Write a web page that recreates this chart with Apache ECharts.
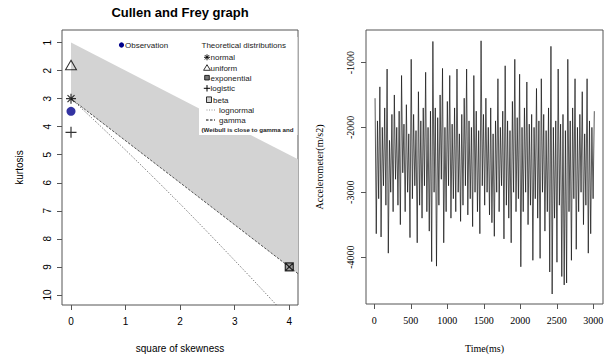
<!DOCTYPE html>
<html>
<head>
<meta charset="utf-8">
<script src="https://cdn.jsdelivr.net/npm/echarts@6/dist/echarts.min.js"></script>
<style>
  html, body { margin: 0; padding: 0; background: #fff; }
  #main { width: 608px; height: 358px; }
</style>
</head>
<body>
<div id="main"></div>
<script>
// --- Cullen and Frey graph (left) ---
const observation = [[0, 3.45]];
const normalPt = [[0, 3]];
const uniformPt = [[0, 1.8]];
const exponentialPt = [[4, 9]];
const logisticPt = [[0, 4.2]];
const betaRegion = [[0, 1], [4.16, 5.16], [4.16, 9.24], [0, 3]];
const lognormalLine = [[0, 3], [0.091, 3.16], [0.229, 3.41], [0.465, 3.84], [0.961, 4.76],
  [1.488, 5.76], [2.048, 6.85], [2.641, 8.04], [3.267, 9.32], [3.66, 10.14], [3.793, 10.42]];
const gammaLine = [[0, 3], [4.16, 9.24]];
const skewTicks = [0, 1, 2, 3, 4];
const kurtTicks = [1, 2, 3, 4, 5, 6, 7, 8, 9, 10];
const legendNames = ['normal', 'uniform', 'exponential', 'logistic', 'beta', 'lognormal', 'gamma'];

// --- accelerometer trace (right) ---
const timeTicks = [0, 500, 1000, 1500, 2000, 2500, 3000];
const accelTicks = [-4000, -3000, -2000, -1000];
const sampleStartMs = 10;
const sampleStepMs = 16.5;
const accel = [
  -1550, -3640, -1900, -3100, -1375, -3690, -2000, -2900, -1700, -3200, -1100, -3940,
  -2200, -3000, -1800, -3300, -1500, -2800, -2000, -3200, -1750, -3500, -1200, -2700,
  -1950, -3300, -1650, -3000, -2100, -3700, -950, -3100, -1800, -2900, -2050, -3780,
  -1450, -3200, -1900, -3400, -1700, -2900, -1150, -3300, -2000, -3600, -1750, -4070,
  -675, -3000, -1700, -4140, -1850, -3200, -1500, -2800, -1090, -3780, -2000, -3300,
  -1600, -2900, -1200, -3400, -1950, -3100, -1700, -3300, -1100, -3000, -2100, -3450,
  -1800, -3200, -1550, -2900, -1100, -3350, -1900, -3100, -2000, -3530, -1200, -3000,
  -1750, -3300, -2050, -3640, -665, -2900, -1800, -3200, -1550, -3000, -2000, -3350,
  -1700, -3470, -2100, -3680, -1900, -3000, -1250, -3300, -2000, -2900, -1750, -3720,
  -1050, -3200, -1900, -3400, -2050, -3780, -1600, -3000, -950, -3300, -1850, -3100,
  -1180, -4150, -2000, -3300, -1700, -3000, -1300, -3500, -1950, -3200, -1800, -4050,
  -2000, -3100, -1400, -3400, -1900, -4020, -1250, -3000, -1800, -3600, -2050, -3300,
  -1700, -4230, -750, -4570, -2000, -3400, -1900, -4080, -1100, -3200, -1950, -4300,
  -1800, -4430, -2050, -4400, -950, -3300, -1900, -4050, -1700, -3100, -1250, -3880,
  -2000, -3300, -1800, -3000, -1450, -3500, -2100, -3200, -1250, -3940, -1900, -3640,
  -2000, -3100, -1750
];

const sans = 'Liberation Sans, Arial, sans-serif';
const serif = 'Liberation Serif, Times New Roman, serif';
const frame = '#555';

const accelData = accel.map((v, i) => [sampleStartMs + i * sampleStepMs, v]);

// symbols (R pch lookalikes)
const starPath = 'path://M10,0L10,20M0,10L20,10M3,3L17,17M3,17L17,3';
const triPath = 'path://M10,0L20,17.3L0,17.3Z';
const boxXPath = 'path://M0,0L20,0L20,20L0,20ZM0,0L20,20M20,0L0,20';
const plusPath = 'path://M10,0L10,20M0,10L20,10';

function seg(x1, y1, x2, y2, w, dash, col) {
  return { type: 'line', silent: true, z: 100, shape: { x1, y1, x2, y2 },
    style: { stroke: col || '#000', lineWidth: w || 1, lineDash: dash || null } };
}
function txt(x, y, s, size, extra) {
  return Object.assign({ type: 'text', x, y, silent: true, z: 100,
    style: Object.assign({ text: s, fontSize: size, fontFamily: sans, fill: '#222', verticalAlign: 'middle' }, extra || {}) });
}

// legend drawn by hand to keep R's layout
const lx = 207, rows = [57.3, 67.7, 77.7, 88.3, 99.7, 110, 120];
const legendEls = [
  { type: 'rect', silent: true, z: 99, shape: { x: 199, y: 37, width: 98.5, height: 98 }, style: { fill: '#fff' } },
  { type: 'circle', silent: true, z: 100, shape: { cx: 121.5, cy: 45, r: 2.6 }, style: { fill: '#00008b' } },
  txt(125, 45.5, 'Observation', 8),
  txt(201.5, 45.5, 'Theoretical distributions', 8),
  // normal
  seg(lx - 3, rows[0], lx + 3, rows[0], 0.9), seg(lx, rows[0] - 3, lx, rows[0] + 3, 0.9),
  seg(lx - 2.2, rows[0] - 2.2, lx + 2.2, rows[0] + 2.2, 0.9), seg(lx - 2.2, rows[0] + 2.2, lx + 2.2, rows[0] - 2.2, 0.9),
  // uniform
  { type: 'polygon', silent: true, z: 100, shape: { points: [[lx, rows[1] - 3], [lx + 3.4, rows[1] + 2.6], [lx - 3.4, rows[1] + 2.6]] },
    style: { fill: 'none', stroke: '#000', lineWidth: 0.8 } },
  // exponential
  { type: 'rect', silent: true, z: 100, shape: { x: lx - 2.3, y: rows[2] - 2.3, width: 4.6, height: 4.6 },
    style: { fill: '#777', stroke: '#000', lineWidth: 0.8 } },
  // logistic
  seg(lx - 3.2, rows[3], lx + 3.2, rows[3], 1), seg(lx, rows[3] - 3.2, lx, rows[3] + 3.2, 1),
  // beta
  { type: 'rect', silent: true, z: 100, shape: { x: lx - 0.5, y: rows[4] - 2.8, width: 5, height: 5.6 },
    style: { fill: '#d3d3d3', stroke: '#000', lineWidth: 0.8 } },
  // lognormal / gamma
  seg(lx - 0.5, rows[5], lx + 8, rows[5], 0.8, [1, 1.5], '#777'),
  seg(lx - 1, rows[6], lx + 8, rows[6], 1, [2.5, 1.5], '#000'),
  txt(210.5, rows[0] + 0.5, legendNames[0], 8),
  txt(210.5, rows[1] + 0.5, legendNames[1], 8),
  txt(210.5, rows[2] + 0.5, legendNames[2], 8),
  txt(210.5, rows[3] + 0.5, legendNames[3], 8),
  txt(213, rows[4] + 0.5, legendNames[4], 8),
  txt(219, rows[5] + 0.5, legendNames[5], 8),
  txt(219, rows[6] + 0.5, legendNames[6], 8),
  txt(201.5, 129.7, '(Weibull is close to gamma and', 6.2, { fontWeight: 'bold' }),
  { type: 'text', x: 180, y: 12, silent: true, z: 100,
    style: { text: 'Cullen and Frey graph', fontSize: 13, fontWeight: 'bold', fontFamily: sans,
      fill: '#000', align: 'center', verticalAlign: 'middle' } }
];

function axisCommon(ticks, font, margin, rotate) {
  return {
    axisLine: { show: false, onZero: false },
    splitLine: { show: false },
    axisTick: { show: true, customValues: ticks, length: 5, lineStyle: { color: frame } },
    axisLabel: { customValues: ticks, margin: margin, rotate: rotate || 0, fontFamily: font, fontSize: 10,
      color: '#000', formatter: v => String(v) },
    nameLocation: 'middle',
    nameTextStyle: { fontFamily: font, fontSize: 10, color: '#000' }
  };
}

const option = {
  animation: false,
  backgroundColor: '#fff',
  grid: [
    { left: 62, top: 30, width: 236, height: 282, show: true, borderColor: frame, borderWidth: 1, backgroundColor: 'transparent' },
    { left: 366, top: 30, width: 237, height: 280, show: true, borderColor: frame, borderWidth: 1, backgroundColor: 'transparent' }
  ],
  xAxis: [
    Object.assign(axisCommon(skewTicks, sans, 11), { gridIndex: 0, type: 'value', min: -0.165, max: 4.16,
      name: 'square of skewness', nameGap: 38 }),
    Object.assign(axisCommon(timeTicks, serif, 11), { gridIndex: 1, type: 'value', min: -114, max: 3132,
      name: 'Time(ms)', nameGap: 39 })
  ],
  yAxis: [
    Object.assign(axisCommon(kurtTicks, sans, 10, 90), { gridIndex: 0, type: 'value', inverse: true, min: 0.55, max: 10.36,
      name: 'kurtosis', nameGap: 38, nameRotate: 90 }),
    Object.assign(axisCommon(accelTicks, serif, 11, 90), { gridIndex: 1, type: 'value', min: -4724, max: -498,
      name: 'Accelerometer(m/s2)', nameGap: 42, nameRotate: 90 })
  ],
  graphic: { elements: legendEls },
  series: [
    {
      type: 'custom', xAxisIndex: 0, yAxisIndex: 0, data: betaRegion, z: 1, silent: true,
      renderItem: (params, api) => {
        if (params.dataIndex !== 0) return null;
        const pts = betaRegion.map(p => api.coord(p));
        return { type: 'polygon', shape: { points: pts }, style: { fill: '#d3d3d3', stroke: 'none' } };
      }
    },
    {
      name: 'gamma', type: 'line', xAxisIndex: 0, yAxisIndex: 0, data: gammaLine, symbol: 'none', z: 2,
      lineStyle: { color: '#444', width: 0.9, type: [2.5, 1.5] }
    },
    {
      name: 'lognormal', type: 'line', xAxisIndex: 0, yAxisIndex: 0, data: lognormalLine, symbol: 'none', smooth: 0.2, z: 2,
      lineStyle: { color: '#555', width: 0.9, type: [1, 1.5] }
    },
    {
      name: 'uniform', type: 'scatter', xAxisIndex: 0, yAxisIndex: 0, data: uniformPt, z: 3,
      symbol: triPath, symbolSize: [11, 9.5],
      itemStyle: { color: 'transparent', borderColor: '#000', borderWidth: 1 }
    },
    {
      name: 'normal', type: 'scatter', xAxisIndex: 0, yAxisIndex: 0, data: normalPt, z: 3,
      symbol: starPath, symbolSize: 10,
      itemStyle: { color: 'transparent', borderColor: '#000', borderWidth: 1.2 }
    },
    {
      name: 'logistic', type: 'scatter', xAxisIndex: 0, yAxisIndex: 0, data: logisticPt, z: 3,
      symbol: plusPath, symbolSize: 11,
      itemStyle: { color: 'transparent', borderColor: '#000', borderWidth: 1.2 }
    },
    {
      name: 'exponential', type: 'scatter', xAxisIndex: 0, yAxisIndex: 0, data: exponentialPt, z: 3,
      symbol: boxXPath, symbolSize: 8,
      itemStyle: { color: '#888', borderColor: '#000', borderWidth: 1.2 }
    },
    {
      name: 'Observation', type: 'scatter', xAxisIndex: 0, yAxisIndex: 0, data: observation, z: 4,
      symbol: 'circle', symbolSize: 9, itemStyle: { color: '#00008b' }
    },
    {
      name: 'accelerometer', type: 'line', xAxisIndex: 1, yAxisIndex: 1, data: accelData,
      symbol: 'none', sampling: null,
      lineStyle: { color: '#111', width: 0.7 }
    }
  ]
};

const chart = echarts.init(document.getElementById('main'), null, { renderer: 'svg' });
chart.setOption(option);
</script>
</body>
</html>
